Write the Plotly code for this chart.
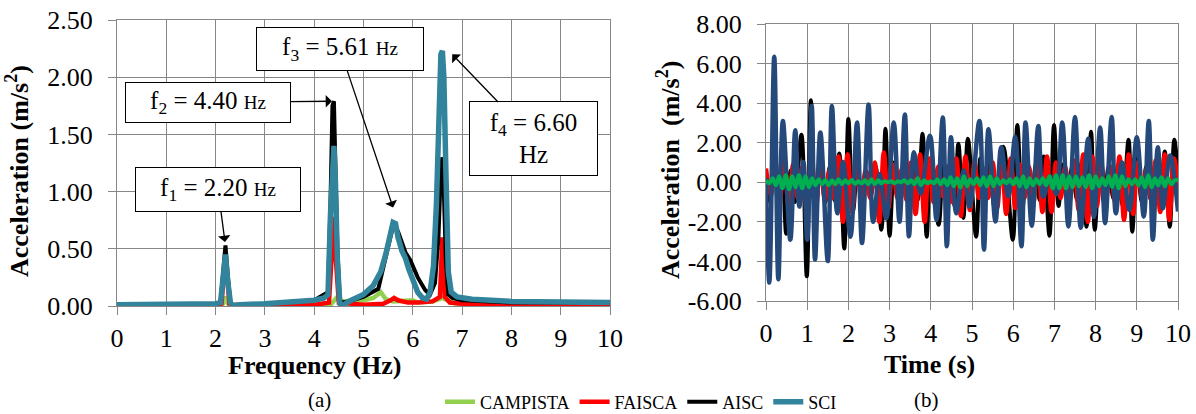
import plotly.graph_objects as go

# ---------------- (a) frequency spectra ----------------
campista_f = [0, 2.0, 2.15, 2.2, 2.25, 2.4, 3.0, 4.0, 4.35, 4.45, 4.6, 5.0, 5.2, 5.35, 5.45, 5.6, 5.9, 6.0, 6.1, 6.4, 6.6, 6.8, 7.0, 10.0]
campista_a = [0.0, 0.0, 0.02, 0.08, 0.02, 0.0, 0.0, 0.01, 0.02, 0.07, 0.04, 0.05, 0.07, 0.12, 0.06, 0.04, 0.05, 0.05, 0.03, 0.04, 0.07, 0.03, 0.01, 0.0]

faisca_f = [0, 2.0, 2.12, 2.2, 2.28, 2.4, 3.0, 4.0, 4.3, 4.36, 4.4, 4.44, 4.5, 5.0, 5.4, 5.55, 5.62, 5.7, 5.9, 6.1, 6.4, 6.55, 6.6, 6.65, 6.75, 7.0, 8.0, 10.0]
faisca_a = [0.0, 0.0, 0.02, 0.45, 0.02, 0.0, 0.005, 0.01, 0.03, 0.6, 0.78, 0.4, 0.03, 0.01, 0.02, 0.05, 0.07, 0.05, 0.03, 0.03, 0.04, 0.08, 0.6, 0.08, 0.03, 0.02, 0.01, 0.01]

aisc_f = [0, 2.0, 2.1, 2.15, 2.2, 2.25, 2.3, 2.35, 3.0, 4.0, 4.28, 4.33, 4.37, 4.4, 4.43, 4.47, 4.52, 4.56, 4.7, 5.0, 5.3, 5.6, 5.7, 5.85, 5.95, 6.1, 6.25, 6.35, 6.45, 6.52, 6.57, 6.6, 6.63, 6.67, 6.72, 6.8, 7.0, 7.5, 8.0, 9.0, 10.0]
aisc_a = [0.01, 0.02, 0.03, 0.25, 0.53, 0.25, 0.03, 0.01, 0.02, 0.05, 0.12, 0.9, 1.75, 1.79, 1.3, 0.5, 0.05, 0.03, 0.04, 0.08, 0.15, 0.7, 0.65, 0.47, 0.4, 0.25, 0.14, 0.1, 0.2, 0.6, 1.2, 1.3, 1.0, 0.4, 0.1, 0.07, 0.05, 0.04, 0.03, 0.03, 0.03]

sci_f = [0, 1, 2.0, 2.1, 2.15, 2.2, 2.25, 2.3, 2.35, 2.5, 3.0, 3.5, 4.0, 4.2, 4.28, 4.33, 4.37, 4.4, 4.43, 4.47, 4.52, 4.56, 4.7, 5.0, 5.2, 5.35, 5.45, 5.55, 5.6, 5.65, 5.7, 5.78, 5.85, 5.92, 6.0, 6.1, 6.2, 6.28, 6.35, 6.42, 6.48, 6.53, 6.57, 6.6, 6.63, 6.67, 6.72, 6.78, 6.9, 7.2, 7.6, 8.0, 9.0, 10.0]
sci_a = [0.01, 0.01, 0.02, 0.03, 0.2, 0.45, 0.2, 0.03, 0.0, 0.01, 0.02, 0.03, 0.05, 0.07, 0.1, 0.8, 1.35, 1.4, 1.1, 0.4, 0.02, 0.0, 0.04, 0.1, 0.18, 0.3, 0.45, 0.65, 0.73, 0.72, 0.6, 0.48, 0.42, 0.32, 0.22, 0.12, 0.07, 0.06, 0.12, 0.35, 0.9, 1.8, 2.2, 2.23, 2.0, 1.2, 0.3, 0.12, 0.08, 0.06, 0.05, 0.04, 0.035, 0.03]

# ---------------- (b) time histories ----------------
aisc_t = [0.0, 0.1, 0.2, 0.3, 0.4, 0.49, 0.6, 0.7, 0.86, 0.99, 1.09, 1.2, 1.32, 1.44, 1.55, 1.66, 1.78, 1.9, 2.0, 2.11, 2.22, 2.33, 2.45, 2.55, 2.66, 2.8, 2.9, 3.0, 3.11, 3.22, 3.33, 3.45, 3.57, 3.68, 3.8, 3.9, 4.0, 4.19, 4.3, 4.4, 4.5, 4.58, 4.67, 4.79, 4.9, 5.1, 5.2, 5.3, 5.42, 5.55, 5.76, 5.99, 6.1, 6.22, 6.33, 6.44, 6.55, 6.64, 6.74, 6.88, 6.99, 7.1, 7.2, 7.32, 7.43, 7.55, 7.66, 7.78, 7.89, 7.98, 8.1, 8.2, 8.32, 8.43, 8.55, 8.66, 8.8, 8.89, 9.0, 9.12, 9.23, 9.34, 9.45, 9.56, 9.68, 9.8, 9.91, 10.0]
aisc_v = [0.3, -1.0, 1.0, -1.4, 1.0, -2.6, 0.6, -1.0, 2.4, -4.75, 4.15, -1.6, 1.0, -1.0, 0.8, -0.9, 1.45, -3.35, 3.2, -1.5, 0.6, -0.6, 0.5, -0.6, 0.8, -2.4, 2.7, -2.7, 1.0, -1.0, 0.8, -0.8, 0.8, -0.9, 2.45, -2.75, 1.0, -2.15, 1.0, -0.9, 0.8, -1.2, 1.95, -1.8, 2.2, -2.75, 1.2, -1.0, 0.9, -1.3, 1.8, -2.9, 2.9, -1.4, 1.0, -1.0, 0.9, -0.9, 1.3, -2.7, 2.9, -1.2, 0.9, -0.9, 0.8, -0.9, 1.0, -2.25, 2.55, -2.4, 1.2, -1.0, 0.8, -0.8, 0.9, -1.2, 2.15, -2.5, 1.2, -1.0, 0.8, -0.9, 0.9, -1.0, 1.55, -2.25, 2.15, 0.3]

sci_t = [0.0, 0.08, 0.2, 0.3, 0.41, 0.59, 0.71, 0.81, 0.91, 1.0, 1.11, 1.19, 1.32, 1.5, 1.6, 1.73, 1.87, 2.05, 2.21, 2.33, 2.49, 2.6, 2.76, 2.92, 3.1, 3.24, 3.37, 3.47, 3.59, 3.75, 3.98, 4.14, 4.29, 4.39, 4.49, 4.62, 4.8, 4.94, 5.18, 5.29, 5.4, 5.57, 5.71, 5.88, 6.05, 6.2, 6.3, 6.45, 6.61, 6.73, 6.9, 7.05, 7.19, 7.34, 7.5, 7.64, 7.82, 7.96, 8.11, 8.23, 8.39, 8.49, 8.64, 8.82, 9.0, 9.17, 9.29, 9.39, 9.51, 9.63, 9.81, 10.0]
sci_v = [0.2, -5.07, 6.35, -4.9, 3.1, -2.9, 2.63, -1.23, 1.02, -2.9, 3.85, -3.9, 2.52, -3.98, 3.85, -1.57, 1.02, -2.75, 3.02, -3.07, 3.93, -2.0, 0.4, -1.83, 3.02, -2.0, 3.43, -2.73, 1.52, -0.57, 2.35, -1.9, 3.27, -3.23, 2.27, -1.57, 0.6, -1.23, 3.1, -3.4, 2.68, -1.98, 1.77, -0.7, 2.3, -3.23, 3.02, -2.2, 2.85, -0.73, 0.3, -0.6, 3.02, -2.23, 3.3, -2.3, 2.2, -1.75, 2.77, -2.07, 3.3, -1.57, 1.0, -1.4, 2.27, -1.73, 3.1, -2.9, 1.77, -1.32, 1.35, -1.48]

faisca_step = 0.11
faisca_v = [0.7, -0.6, 1.0, -1.0, 1.2, -1.2, 0.9, -0.8, 0.8, -1.4,
            1.4, -1.3, 1.0, -0.9, 0.6, -0.8, 1.3, -2.0, 1.4, -1.5,
            0.9, -0.7, 0.6, -0.8, 1.0, -2.0, 1.5, -1.3, 0.9, -0.8,
            0.7, -0.9, 1.0, -1.6, 1.4, -2.0, 1.2, -1.0, 0.8, -0.7,
            0.8, -1.0, 1.2, -1.7, 1.3, -1.4, 1.0, -0.8, 0.7, -0.8,
            1.0, -1.3, 1.3, -1.6, 1.2, -1.3, 0.9, -0.8, 0.8, -1.0,
            1.2, -1.5, 1.3, -1.5, 1.0, -0.8, 0.8, -0.9, 1.1, -1.4,
            1.4, -2.0, 1.3, -1.2, 0.9, -0.8, 0.8, -1.0, 1.3, -1.9,
            1.4, -1.6, 1.0, -0.8, 0.7, -0.9, 1.1, -1.5, 1.4, -1.9,
            1.2, -0.3]
faisca_t = [round(i * faisca_step, 2) for i in range(len(faisca_v))]

campista_step = 0.08
campista_v = [0.1,
              -0.05, 0.2, -0.15, 0.3, -0.3, 0.35, -0.35, 0.3, -0.25, 0.35,
              -0.3, 0.3, -0.25, 0.2, -0.15, 0.15, -0.1, 0.12, -0.15, 0.1,
              -0.1, 0.15, -0.1, 0.1, -0.05, 0.12, -0.08, 0.05, -0.05, 0.1,
              -0.1, 0.15, -0.1, 0.1, -0.05, 0.05, 0.0, 0.05, -0.05, 0.05,
              0.0, 0.1, -0.05, 0.1, -0.1, 0.2, -0.15, 0.1, -0.05, 0.05,
              -0.05, 0.15, -0.1, 0.15, -0.15, 0.25, -0.2, 0.2, -0.25, 0.3,
              -0.2, 0.15, -0.1, 0.2, -0.15, 0.25, -0.2, 0.3, -0.2, 0.2,
              -0.1, 0.1, -0.05, 0.15, -0.1, 0.2, -0.2, 0.3, -0.25, 0.2,
              -0.15, 0.15, -0.1, 0.2, -0.15, 0.3, -0.3, 0.35, -0.3, 0.35,
              -0.3, 0.3, -0.25, 0.3, -0.2, 0.25, -0.25, 0.35, -0.3, 0.3,
              -0.2, 0.2, -0.15, 0.3, -0.25, 0.35, -0.3, 0.3, -0.2, 0.15,
              -0.1, 0.15, -0.15, 0.25, -0.25, 0.35, -0.25, 0.2, -0.15, 0.25,
              -0.2, 0.2, -0.1, 0.1, 0.1]
campista_t = [round(i * campista_step, 2) for i in range(len(campista_v))]

freq_ticks = list(range(0, 11))
acc_a_ticks = [0.0, 0.5, 1.0, 1.5, 2.0, 2.5]
acc_b_ticks = [-6, -4, -2, 0, 2, 4, 6, 8]

SERIF = "Liberation Serif"
GRID = "#878787"
W, H = 1196, 414

fig = go.Figure()

# spectra, CAMPISTA drawn first so SCI ends on top
fig.add_trace(go.Scatter(x=campista_f, y=campista_a, name="CAMPISTA", mode="lines",
                         line=dict(color="#92D050", width=4.5), xaxis="x", yaxis="y"))
fig.add_trace(go.Scatter(x=faisca_f, y=faisca_a, name="FAISCA", mode="lines",
                         line=dict(color="#FF0000", width=4.5), xaxis="x", yaxis="y"))
fig.add_trace(go.Scatter(x=aisc_f, y=aisc_a, name="AISC", mode="lines",
                         line=dict(color="#000000", width=4), xaxis="x", yaxis="y"))
fig.add_trace(go.Scatter(x=sci_f, y=sci_a, name="SCI", mode="lines",
                         line=dict(color="#31849B", width=5.5), xaxis="x", yaxis="y"))

# time histories
fig.add_trace(go.Scatter(x=aisc_t, y=aisc_v, mode="lines", showlegend=False,
                         line=dict(color="#000000", width=4, shape="spline", smoothing=1),
                         xaxis="x2", yaxis="y2"))
fig.add_trace(go.Scatter(x=faisca_t, y=faisca_v, mode="lines", showlegend=False,
                         line=dict(color="#FF0000", width=4.5, shape="spline", smoothing=1),
                         xaxis="x2", yaxis="y2"))
fig.add_trace(go.Scatter(x=sci_t, y=sci_v, mode="lines", showlegend=False,
                         line=dict(color="#24497A", width=4.5, shape="spline", smoothing=1),
                         xaxis="x2", yaxis="y2"))
fig.add_trace(go.Scatter(x=campista_t, y=campista_v, mode="lines", showlegend=False,
                         line=dict(color="#00B050", width=4, shape="spline", smoothing=1),
                         xaxis="x2", yaxis="y2"))

axis_common = dict(showgrid=True, gridcolor=GRID, gridwidth=1, zeroline=False,
                   showline=True, linecolor=GRID, linewidth=1, mirror=True,
                   ticks="outside", tickcolor=GRID, ticklen=8, automargin=False,
                   tickfont=dict(family=SERIF, size=26, color="#000000"))

fig.update_layout(
    width=W, height=H,
    margin=dict(l=0, r=0, t=0, b=0, autoexpand=False),
    paper_bgcolor="white", plot_bgcolor="white",
    font=dict(family=SERIF, color="#000000"),
    xaxis=dict(domain=[117 / W, 610 / W], range=[0, 10], tickvals=freq_ticks,
               ticktext=[str(v) for v in freq_ticks], anchor="y", ticklabelstandoff=1,
               **axis_common),
    yaxis=dict(domain=[(H - 306) / H, (H - 20) / H], range=[0, 2.5], tickvals=acc_a_ticks,
               ticktext=[f"{v:.2f}" for v in acc_a_ticks], anchor="x", ticklabelstandoff=10,
               **axis_common),
    xaxis2=dict(domain=[766 / W, 1178 / W], range=[0, 10], tickvals=freq_ticks,
                ticktext=[str(v) for v in freq_ticks], anchor="y2", ticklabelstandoff=1,
                **axis_common),
    yaxis2=dict(domain=[(H - 301) / H, (H - 24) / H], range=[-6, 8], tickvals=acc_b_ticks,
                ticktext=[f"{v:.2f}" for v in acc_b_ticks], anchor="x2", ticklabelstandoff=10,
                **axis_common),
    legend=dict(orientation="h", xref="container", yref="container",
                x=641 / W, xanchor="center", y=(H - 402) / H, yanchor="middle",
                font=dict(family=SERIF, size=18, color="#000000"), bgcolor="rgba(0,0,0,0)",
                tracegroupgap=0, itemwidth=30),
    showlegend=True,
)

# axis titles and panel labels
def label(text, x, y, size=26, angle=0):
    fig.add_annotation(text=text, x=x / W, y=(H - y) / H, xref="paper", yref="paper",
                       showarrow=False, textangle=angle, xanchor="center", yanchor="middle",
                       font=dict(family=SERIF, size=size, color="#000000"))

label("<b>Frequency (Hz)</b>", 315, 365)
label("<b>Time (s)</b>", 929, 364)
label("<b>Acceleration (m/s<sup>2</sup>)</b>", 18, 171, angle=-90)
label("<b>Acceleration  (m/s<sup>2</sup>)</b>", 668, 170, angle=-90)
label("(a)", 319, 400, size=21)
label("(b)", 926, 400, size=21)

# peak call-outs on the spectrum
HZ = "<span style='font-size:19px'>Hz</span>"
callouts = [
    # text, arrow tip (x, y), box centre (x, y), box w, box h
    (f"f<sub>1</sub> = 2.20 {HZ}", 2.19, 0.56, 2.05, 1.02, 164, 43),
    (f"f<sub>2</sub> = 4.40 {HZ}", 4.36, 1.79, 1.85, 1.78, 164, 39),
    (f"f<sub>3</sub> = 5.61 {HZ}", 5.60, 0.86, 4.52, 2.25, 166, 42),
    ("f<sub>4</sub> = 6.60<br>Hz", 6.80, 2.20, 8.45, 1.46, 127, 73),
]
for text, tx, ty, bx, by, bw, bh in callouts:
    fig.add_annotation(text=text, x=tx, y=ty, ax=bx, ay=by, xref="x", yref="y",
                       axref="x", ayref="y", showarrow=True, arrowhead=1, arrowsize=1.6,
                       arrowwidth=1.3, arrowcolor="#000000", width=bw, height=bh,
                       bordercolor="#000000", borderwidth=1, borderpad=0, bgcolor="white",
                       align="center", valign="middle",
                       font=dict(family=SERIF, size=25, color="#000000"))

fig.write_html("out.html")
